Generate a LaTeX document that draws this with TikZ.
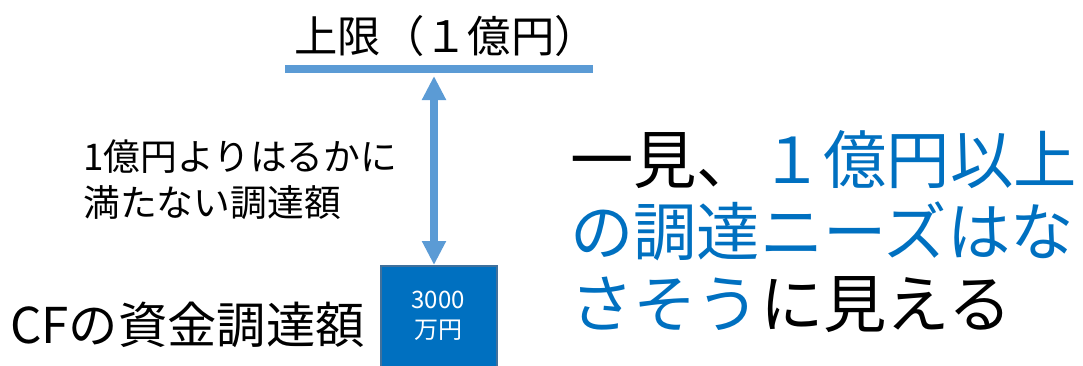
\documentclass[tikz,border=0pt]{standalone}
\usepackage{fontspec}
\setmainfont{Noto Sans CJK JP}
\usetikzlibrary{arrows.meta}
\definecolor{lineblue}{HTML}{5B9BD5}
\definecolor{boxblue}{HTML}{0070C0}
\definecolor{boxedge}{HTML}{41719C}
\tikzset{
  lbl/.style={inner sep=0pt, anchor=west, text=black},
}
\begin{document}
\begin{tikzpicture}[x=0.75pt,y=-0.75pt]
\useasboundingbox (0,0) rectangle (1083,365);
% title
\node[inner sep=0pt, font=\fontsize{32.5}{38}\selectfont] (title) at (446,36) {上限（１億円）};
% limit line
\coordinate (la) at (285,69);
\coordinate (lb) at (593,69);
\draw[lineblue, line width=5.5pt] (la) -- (lb);
% box
\node[draw=boxedge, line width=1.2pt, fill=boxblue, minimum width=87pt, minimum height=78pt, anchor=north west, inner sep=0pt] (box) at (380,265) {};
\node[text=white, align=center, font=\fontsize{18}{22.5}\selectfont] (boxtxt) at (438,316) {3000\\万円};
% arrow
\coordinate (at) at (434,76);
\draw[lineblue, line width=5.5pt, {Triangle[length=18pt,width=17pt]}-{Triangle[length=18pt,width=17pt]}] (at) -- (box.north -| at);
% left label
\node[lbl, align=left, font=\fontsize{27.6}{34.5}\selectfont] (lim) at (83,180) {1億円よりはるかに\\満たない調達額};
% CF label
\node[lbl, font=\fontsize{37}{40}\selectfont] (cf) at (10,325) {CFの資金調達額};
% right text
\node[lbl, align=left, font=\fontsize{47.5}{54}\selectfont] (msg) at (570,232) {一見、\textcolor{boxblue}{１億円以上}\\\textcolor{boxblue}{の調達ニーズはな}\\\textcolor{boxblue}{さそう}に見える};
\end{tikzpicture}
\end{document}
